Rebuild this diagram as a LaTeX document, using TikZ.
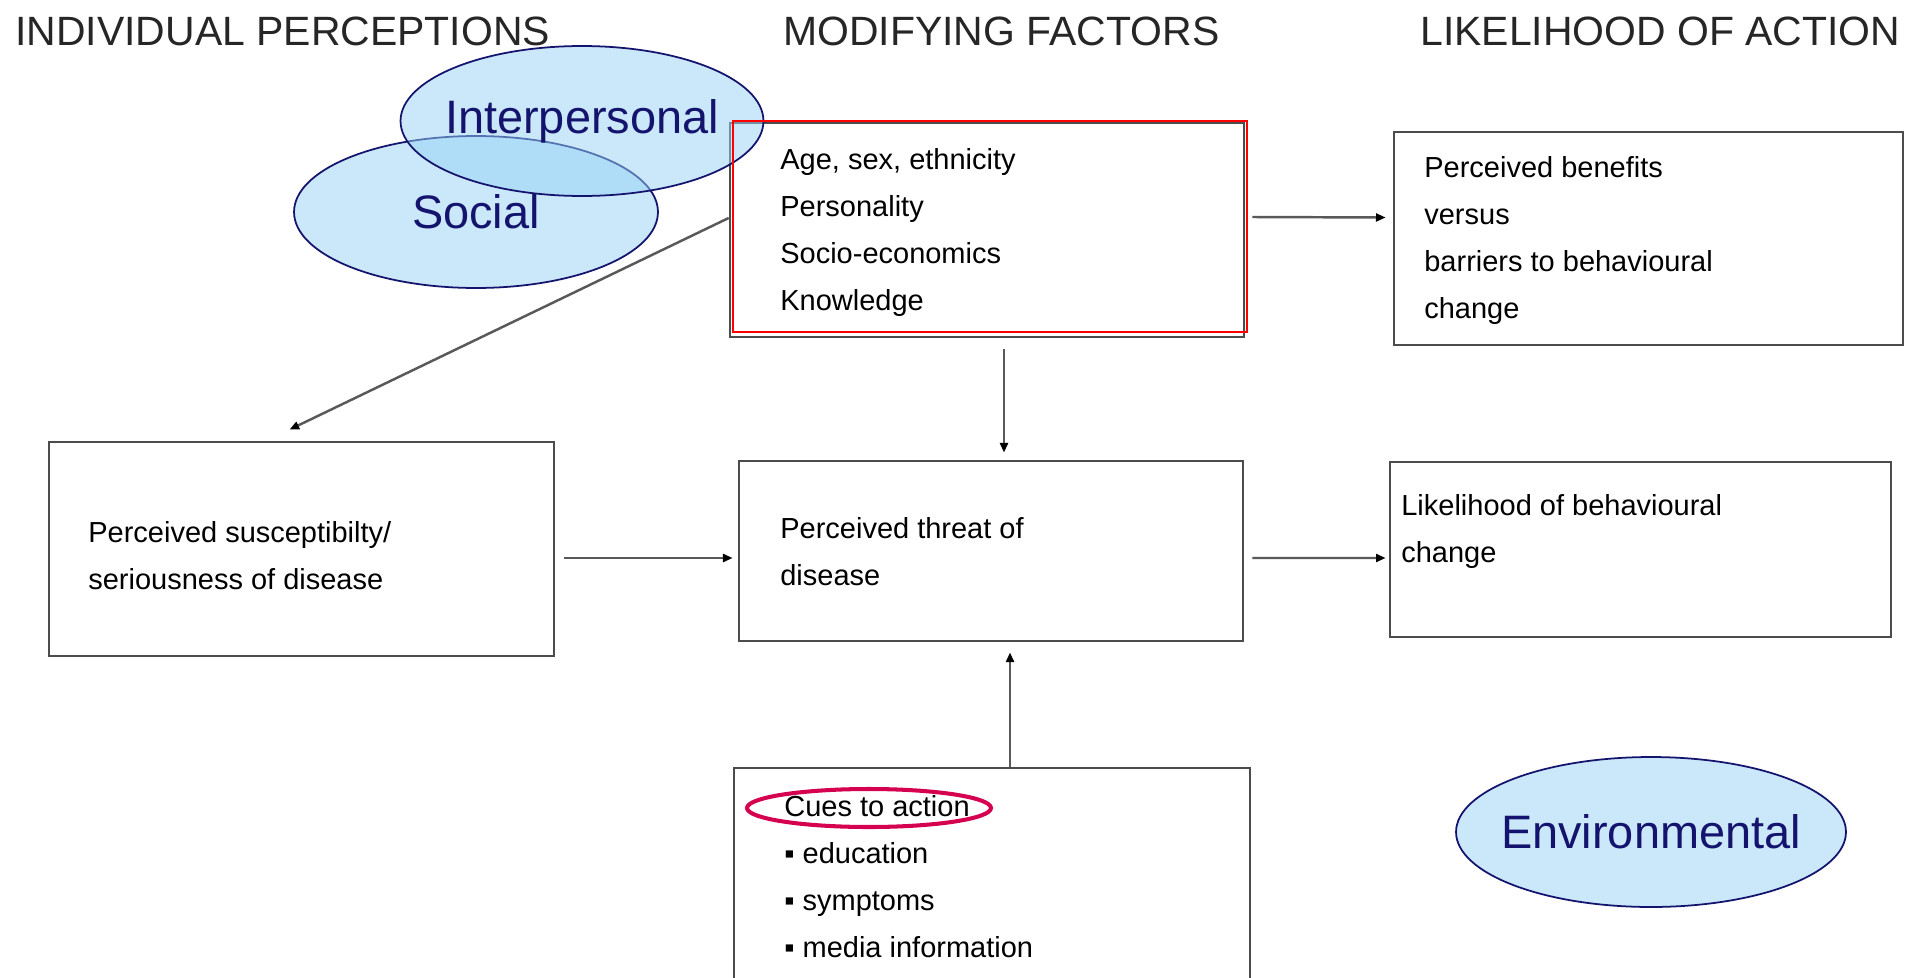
\documentclass[tikz,border=0pt]{standalone}
\usepackage{fontspec}
\setmainfont{Liberation Sans}
\usetikzlibrary{arrows.meta,positioning,calc,shapes.geometric}
\definecolor{navyblue}{RGB}{20,20,110}
\definecolor{skyfill}{RGB}{150,210,244}
\definecolor{cuered}{RGB}{214,0,80}
\newcommand{\boxfont}{\fontsize{16.5pt}{26.7pt}\selectfont}
\newcommand{\headfont}{\fontsize{23.3pt}{28pt}\selectfont}
\newcommand{\blobfont}{\fontsize{26.7pt}{30pt}\selectfont}
\tikzset{
  box/.style={draw=black!70, line width=1.6pt, inner sep=0pt, fill=white},
  txt/.style={font=\boxfont, align=left, anchor=base west, inner sep=0pt},
  head/.style={font=\headfont, anchor=base west, inner sep=0pt, text=black!85},
  blob/.style={ellipse, draw=navyblue, line width=1pt, fill=skyfill, fill opacity=0.5, inner sep=0pt,
    label={[text=navyblue, font=\blobfont, inner sep=0pt, text opacity=1]center:#1}},
  arr/.style={-{Triangle[length=5.5pt,width=4.5pt,color=black]}, line width=1.4pt, draw=black!65}}

\begin{document}
\begin{tikzpicture}[x=0.02cm, y=-0.02cm]
  \useasboundingbox (0,0) rectangle (1919,977);
  \fill[white] (0,0) rectangle (1919,977);
  % column headings
  \node[head] (hind) at (15,45) {INDIVIDUAL PERCEPTIONS};
  \node[head] (hmod) at (783,45) {MODIFYING FACTORS};
  \node[head] (hlik) at (1420,45) {LIKELIHOOD OF ACTION};
  % boxes
  \node[box, minimum width=10.28cm, minimum height=4.28cm] (mf) at (987,230) {};
  \node[box, minimum width=10.18cm, minimum height=4.26cm] (ben) at (1648.5,238.5) {};
  \node[box, minimum width=10.1cm, minimum height=4.28cm] (sus) at (301.5,549) {};
  \node[box, minimum width=10.08cm, minimum height=3.6cm] (threat) at (991,551) {};
  \node[box, minimum width=10.02cm, minimum height=3.5cm] (like) at (1640.5,549.5) {};
  \node[box, minimum width=10.32cm, minimum height=4.84cm] (cues) at (992,889) {};
  % box texts (placed by the baseline of their last line)
  \node[txt] (tmf) at (780,310) {Age, sex, ethnicity\\Personality\\Socio-economics\\Knowledge};
  \node[txt] (tben) at (1424,318) {Perceived benefits\\versus\\barriers to behavioural\\change};
  \node[txt] (tsus) at (88,589) {Perceived susceptibilty/\\seriousness of disease};
  \node[txt] (tthreat) at (780,585) {Perceived threat of\\disease};
  \node[txt] (tlike) at (1401,562) {Likelihood of behavioural\\change};
  \node[txt] (tcues) at (784,957) {Cues to action\\▪ education\\▪ symptoms\\▪ media information};
  \draw[cuered, line width=2.3pt] (869,808) ellipse (2.44cm and 0.38cm);
  % arrows
  \draw[arr] ($(mf.west)+(0,-12)$) -- ($(sus.north)+(-12,-11)$);
  \draw[arr] ($(mf.south)+(17,11)$) -- ($(threat.north)+(13,-7)$);
  \draw[arr] ($(sus.east)+(9,9)$) -- ($(threat.west)+(-5,7)$);
  \draw[arr] ($(mf.east)+(7,-13)$) -- ($(ben.west)+(-7,-21)$);
  \draw[arr] ($(threat.east)+(8,7)$) -- ($(like.west)+(-3,8.5)$);
  \draw[arr] ($(cues.north)+(18,0)$) -- ($(threat.south)+(19,10)$);
  % levels
  \node[blob=Social, minimum width=7.28cm, minimum height=3.04cm] (social) at (476,212) {};
  \node[blob=Interpersonal, minimum width=7.26cm, minimum height=3.0cm] (inter) at (582,121) {};
  \node[blob=Environmental, minimum width=7.8cm, minimum height=3.0cm] (env) at (1651,832) {};
  \draw[red, line width=1.1pt] (733,121) rectangle (1247,332);
\end{tikzpicture}
\end{document}
